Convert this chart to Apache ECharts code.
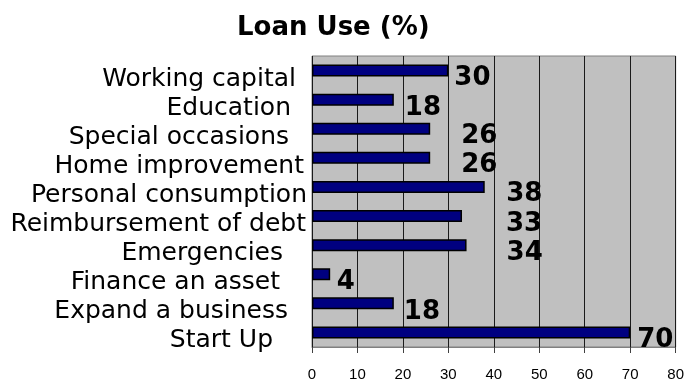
<!DOCTYPE html>
<html>
<head>
<meta charset="utf-8">
<title>Loan Use (%)</title>
<script src="https://cdn.jsdelivr.net/npm/echarts@6/dist/echarts.min.js"></script>
<style>
  html, body { margin: 0; padding: 0; background: #ffffff; }
  #chart { width: 687px; height: 382px; }
</style>
</head>
<body>
<div id="chart"></div>
<script>
// Loan purposes, listed top to bottom
const categories = [
  'Working capital',
  'Education',
  'Special occasions',
  'Home improvement',
  'Personal consumption',
  'Reimbursement of debt',
  'Emergencies',
  'Finance an asset',
  'Expand a business',
  'Start Up'
];

// Share of borrowers (%) for each purpose
const loanUse = [30, 18, 26, 26, 38, 33, 34, 4, 18, 70];

// X axis ticks
const xTicks = [0, 10, 20, 30, 40, 50, 60, 70, 80];

// Per-row label styling: right padding of category names, and value label nudges
const namePad = [11, 16, 18, 3, 0, 1, 24, 27, 19, 34];
const valueGap = [6, 11, 31, 31, 21.5, 44, 40, 6.5, 10, 7];
const valueDrop = [7.4, 9, 7.7, 7.7, 6.9, 8.5, 7.7, 7.6, 8.4, 7.4];

const rich = {};
namePad.forEach((p, i) => {
  rich['c' + i] = {
    fontFamily: 'DejaVu Sans',
    fontSize: 25,
    color: '#000',
    padding: [17, p, 0, 0]
  };
});

const chart = echarts.init(document.getElementById('chart'), null, { renderer: 'canvas' });

chart.setOption({
  backgroundColor: '#ffffff',
  animation: false,
  title: {
    text: 'Loan Use (%)',
    left: 237,
    top: 15,
    padding: 0,
    textStyle: {
      fontFamily: 'DejaVu Sans',
      fontWeight: 'bold',
      fontSize: 26,
      color: '#000'
    }
  },
  grid: {
    left: 312,
    right: 7,
    top: 56,
    bottom: 34,
    show: true,
    backgroundColor: '#c0c0c0',
    borderColor: '#808080',
    borderWidth: 1,
    containLabel: false
  },
  xAxis: {
    type: 'value',
    min: xTicks[0],
    max: xTicks[xTicks.length - 1],
    interval: xTicks[1] - xTicks[0],
    axisLine: { show: true, lineStyle: { color: '#808080', width: 1 } },
    axisTick: { show: true, length: 6, lineStyle: { color: '#404040' } },
    axisLabel: {
      margin: 20,
      fontFamily: 'Liberation Sans',
      fontSize: 15,
      color: '#000',
      formatter: v => String(v)
    },
    splitLine: { show: true, lineStyle: { color: '#1a1a1a', width: 1 } }
  },
  yAxis: {
    type: 'category',
    data: categories,
    inverse: true,
    axisLine: { show: false },
    axisTick: { show: false },
    axisLabel: {
      margin: 5,
      formatter: (name, idx) => '{c' + idx + '|' + name + '}',
      rich: rich
    },
    splitLine: { show: false }
  },
  series: [{
    type: 'bar',
    data: loanUse.map((v, i) => ({
      value: v,
      label: {
        distance: valueGap[i],
        offset: [0, valueDrop[i]]
      }
    })),
    barWidth: 12,
    itemStyle: {
      color: '#000080',
      borderColor: '#000000',
      borderWidth: 1.5
    },
    label: {
      show: true,
      position: 'right',
      fontFamily: 'DejaVu Sans',
      fontWeight: 'bold',
      fontSize: 26,
      color: '#000'
    }
  }]
});
</script>
</body>
</html>
